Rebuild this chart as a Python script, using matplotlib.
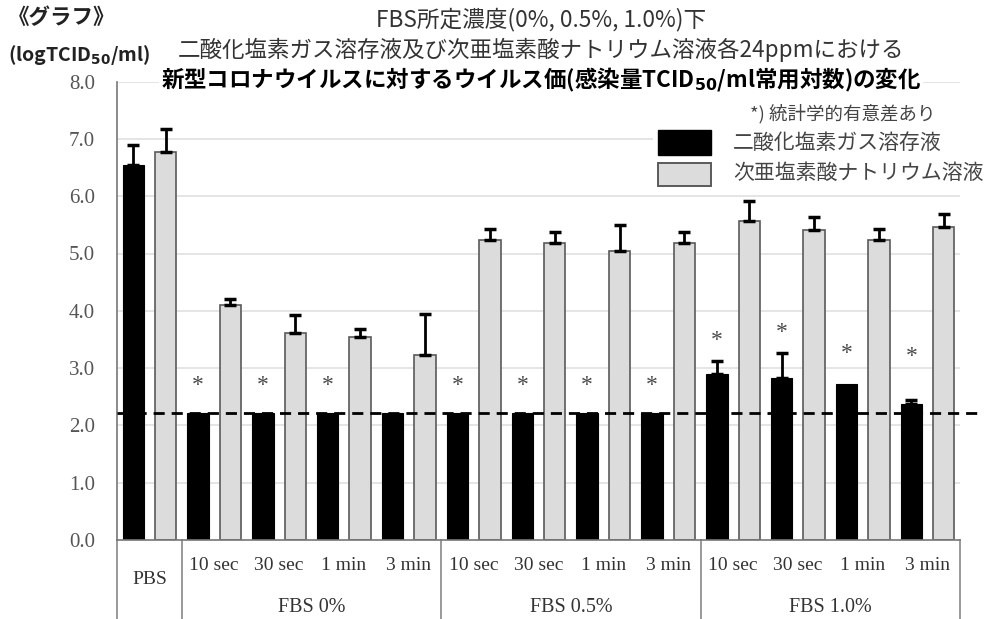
import matplotlib
matplotlib.use("Agg")
import matplotlib.pyplot as plt
from matplotlib.patches import Rectangle
import numpy as np

plt.rcParams['font.family'] = ['Noto Sans CJK JP', 'DejaVu Sans']

# ---- data ----
sub_labels = ['PBS', '10 sec', '30 sec', '1 min', '3 min',
              '10 sec', '30 sec', '1 min', '3 min',
              '10 sec', '30 sec', '1 min', '3 min']
group_labels = ['FBS 0%', 'FBS 0.5%', 'FBS 1.0%']
series_names = ['二酸化塩素ガス溶存液', '次亜塩素酸ナトリウム溶液']
clo2_vals = [6.55, 2.22, 2.22, 2.22, 2.22, 2.22, 2.22, 2.22, 2.22, 2.90, 2.82, 2.73, 2.37]
clo2_err = [0.35, 0, 0, 0, 0, 0, 0, 0, 0, 0.23, 0.44, 0, 0.08]
naclo_vals = [6.78, 4.10, 3.62, 3.54, 3.22, 5.24, 5.18, 5.05, 5.18, 5.56, 5.41, 5.24, 5.47]
naclo_err = [0.39, 0.11, 0.31, 0.14, 0.72, 0.18, 0.19, 0.44, 0.19, 0.36, 0.23, 0.18, 0.22]
sig_marks = [None, 2.70, 2.70, 2.70, None, 2.70, 2.70, 2.70, 2.70, 3.48, 3.62, 3.26, 3.20]
detect_limit = 2.22
yticks = [0, 1, 2, 3, 4, 5, 6, 7, 8]

W, H = 984, 619
fig = plt.figure(figsize=(W / 100, H / 100), dpi=100)
ax_l, ax_r, ax_b, ax_t = 117, 960, 540, 81.6
ax = fig.add_axes([ax_l / W, 1 - ax_b / H, (ax_r - ax_l) / W, (ax_b - ax_t) / H])


def fx(px):
    return px / W


def fy(py):
    return 1 - py / H


n = len(sub_labels)
x = np.arange(n)
bw = 0.33
tick_c = '#555555'
clo2_c = 'black'
naclo_c = '#dcdcdc'
naclo_edge = '#5a5a5a'

for yv in yticks[1:]:
    ax.axhline(yv, color='#e3e3e3', lw=1.3, zorder=0)

ax.bar(x - 0.25, clo2_vals, bw, color=clo2_c, edgecolor='black', lw=0.8, zorder=2)
ax.bar(x + 0.25, naclo_vals, bw, color=naclo_c, edgecolor=naclo_edge, lw=1.2, zorder=2)

for xi, v, e in zip(x - 0.25, clo2_vals, clo2_err):
    if e > 0:
        ax.errorbar(xi, v, yerr=[[0], [e]], color='black', lw=2, capsize=4, capthick=2.5, zorder=3)
for xi, v, e in zip(x + 0.25, naclo_vals, naclo_err):
    if e > 0:
        ax.errorbar(xi, v, yerr=[[0], [e]], color='black', lw=2, capsize=4, capthick=2.5, zorder=3)

for xi, s in zip(x - 0.25, sig_marks):
    if s is not None:
        ax.text(xi, s, '*', ha='center', va='center', fontsize=17, color='#4a4a4a',
                family='Liberation Serif', zorder=4)

ax.plot([-0.5, n + 0.2], [detect_limit, detect_limit], color='black', lw=2,
        dashes=(4, 2.5), clip_on=False, zorder=5)

ax.set_xlim(-0.5, n - 0.5)
ax.set_ylim(0, 8)
ax.set_yticks(yticks)
ax.set_yticklabels([f'{v:.1f}' for v in yticks], family='Liberation Serif', fontsize=15, color=tick_c)
ax.tick_params(axis='y', length=0, pad=16)
ax.set_xticks([])
for s in ['top', 'right']:
    ax.spines[s].set_visible(False)
for s in ['left', 'bottom']:
    ax.spines[s].set_color('#777777')
    ax.spines[s].set_linewidth(1.2)

# category table below axis
trans = ax.get_xaxis_transform()
scale = (ax_b - ax_t)
bottom = -(H - ax_b) / scale
for xb in [-0.5, 0.5, 4.5, 8.5, 12.5]:
    ax.plot([xb, xb], [0, bottom], transform=trans, color='#888888', lw=1.2, clip_on=False)
for i, lab in enumerate(sub_labels):
    yy = 579 if i == 0 else 565
    ax.text(i, -(yy - ax_b) / scale, lab, transform=trans, ha='center', va='center',
            family='Liberation Serif', fontsize=14, color='#333333')
for gi, g in enumerate(group_labels):
    ax.text(2.5 + 4 * gi, -(608 - ax_b) / scale, g, transform=trans, ha='center', va='center',
            family='Liberation Serif', fontsize=14.5, color='#333333')

# legend (white backing, swatches, labels)
fig.patches.append(Rectangle((fx(653), fy(190)), fx(962) - fx(653), fy(100) - fy(190),
                             transform=fig.transFigure, facecolor='white', edgecolor='none', zorder=3))
fig.patches.append(Rectangle((fx(658), fy(155)), fx(711) - fx(658), fy(130) - fy(155),
                             transform=fig.transFigure, facecolor=clo2_c, edgecolor='black', lw=1, zorder=4))
fig.patches.append(Rectangle((fx(658), fy(186)), fx(711) - fx(658), fy(163) - fy(186),
                             transform=fig.transFigure, facecolor=naclo_c, edgecolor=naclo_edge, lw=1.4, zorder=4))
fig.text(fx(733), fy(143), series_names[0], ha='left', va='center', fontsize=15, color='#444444', zorder=5)
fig.text(fx(733), fy(173), series_names[1], ha='left', va='center', fontsize=15, color='#444444', zorder=5)
fig.text(fx(750), fy(114), '*) 統計学的有意差あり', ha='left', va='center', fontsize=13.3, color='#444444', zorder=5)

# titles
fig.text(fx(541), fy(20), 'FBS所定濃度(0%, 0.5%, 1.0%)下', ha='center', va='center',
         fontsize=16.3, color='#333333')
fig.text(fx(541), fy(50), '二酸化塩素ガス溶存液及び次亜塩素酸ナトリウム溶液各24ppmにおける', ha='center', va='center',
         fontsize=16.2, color='#333333')
fig.text(fx(541), fy(80), '新型コロナウイルスに対するウイルス価(感染量TCID$_{\\mathbf{50}}$/ml常用対数)の変化',
         ha='center', va='center', fontsize=16.2, fontweight='bold', color='black',
         bbox=dict(facecolor='white', edgecolor='none', pad=1), zorder=10)
fig.text(fx(8), fy(18), '《グラフ》', ha='left', va='center', fontsize=15.5, fontweight='bold', color='#222222')
fig.text(fx(8), fy(55), '(logTCID$_{\\mathbf{50}}$/ml)', ha='left', va='center', fontsize=14,
         fontweight='bold', color='#222222')

fig.savefig('out.png', dpi=100)
